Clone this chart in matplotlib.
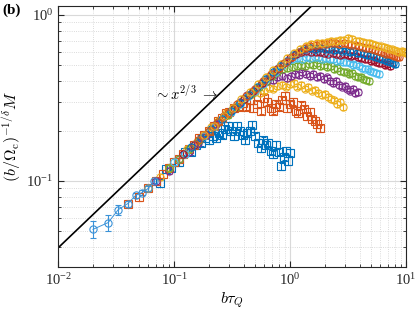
# Scaling collapse of M versus b*tau_Q (log-log)
import numpy as np
import matplotlib.pyplot as plt

plt.rcParams['font.family'] = 'serif'
plt.rcParams['font.serif'] = ['Liberation Serif', 'DejaVu Serif']
plt.rcParams['mathtext.fontset'] = 'cm'

# MATLAB default colours
blue = '#0072BD'
orange = '#D95319'
yellow = '#EDB120'
purple = '#7E2F8E'
green = '#77AC30'
lightblue = '#4DBEEE'
red = '#A2142F'
lineblue = '#3A92D8'

# small-x points joined by a line
x0 = [0.020, 0.027, 0.033, 0.040, 0.047, 0.053, 0.060, 0.067]
y0 = [0.051, 0.056, 0.067, 0.073, 0.082, 0.085, 0.090, 0.100]
e0 = [0.006, 0.006, 0.005, 0.003, 0.003, 0.003, 0.003, 0.003]

# series 1: blue squares
x1 = [0.075, 0.085, 0.095, 0.11, 0.125, 0.14, 0.155, 0.17, 0.185, 0.2,
      0.215, 0.23, 0.245, 0.26, 0.275, 0.29, 0.31, 0.33, 0.35, 0.37,
      0.39, 0.41, 0.43, 0.45, 0.47, 0.5, 0.53, 0.56, 0.59, 0.62,
      0.65, 0.68, 0.72, 0.76, 0.8, 0.84, 0.88, 0.92, 0.96, 1.0]
y1 = [0.097, 0.118, 0.12, 0.13, 0.15, 0.15, 0.165, 0.17, 0.18, 0.175,
      0.185, 0.18, 0.195, 0.19, 0.205, 0.215, 0.2, 0.185, 0.215, 0.2,
      0.19, 0.175, 0.195, 0.2, 0.218, 0.185, 0.17, 0.158, 0.175, 0.165,
      0.17, 0.152, 0.145, 0.165, 0.15, 0.122, 0.14, 0.152, 0.132, 0.148]

# series 2: orange squares
x2 = [0.04, 0.05, 0.06, 0.07, 0.08, 0.09, 0.1, 0.11, 0.12, 0.135,
      0.15, 0.165, 0.18, 0.2, 0.22, 0.24, 0.26, 0.28, 0.3, 0.33,
      0.36, 0.39, 0.42, 0.45, 0.48, 0.52, 0.56, 0.6, 0.64, 0.68,
      0.72, 0.76, 0.8, 0.85, 0.9, 0.95, 1.0, 1.06, 1.12, 1.18,
      1.25, 1.32, 1.4, 1.48, 1.56, 1.64, 1.72, 1.8]
y2 = [0.073, 0.08, 0.09, 0.1, 0.11, 0.12, 0.13, 0.135, 0.145, 0.155,
      0.165, 0.18, 0.19, 0.2, 0.215, 0.23, 0.24, 0.255, 0.26, 0.275,
      0.28, 0.295, 0.28, 0.305, 0.275, 0.29, 0.265, 0.315, 0.3, 0.275,
      0.265, 0.29, 0.28, 0.305, 0.325, 0.275, 0.29, 0.3, 0.265, 0.255,
      0.285, 0.27, 0.245, 0.26, 0.235, 0.23, 0.22, 0.208]

# series 3: yellow circles
x3 = [0.06, 0.075, 0.09, 0.11, 0.13, 0.155, 0.18, 0.21, 0.24, 0.28,
      0.32, 0.36, 0.4, 0.45, 0.5, 0.55, 0.6, 0.66, 0.72, 0.78,
      0.85, 0.92, 1.0, 1.08, 1.16, 1.25, 1.34, 1.44, 1.54, 1.65,
      1.76, 1.88, 2.0, 2.13, 2.26, 2.4, 2.55, 2.7, 2.85]
y3 = [0.09, 0.105, 0.12, 0.135, 0.155, 0.17, 0.19, 0.21, 0.23, 0.255,
      0.275, 0.295, 0.31, 0.33, 0.345, 0.34, 0.35, 0.365, 0.36, 0.375,
      0.38, 0.37, 0.385, 0.39, 0.37, 0.38, 0.36, 0.37, 0.35, 0.355,
      0.34, 0.33, 0.335, 0.32, 0.31, 0.305, 0.29, 0.3, 0.28]

# series 4: purple circles
x4 = [0.07, 0.09, 0.11, 0.135, 0.16, 0.19, 0.23, 0.27, 0.32, 0.37,
      0.43, 0.5, 0.57, 0.64, 0.71, 0.78, 0.86, 0.94, 1.02, 1.1,
      1.19, 1.28, 1.38, 1.48, 1.59, 1.7, 1.82, 1.95, 2.08, 2.22,
      2.36, 2.5, 2.65, 2.8, 2.96, 3.12, 3.3, 3.48, 3.66, 3.85]
y4 = [0.1, 0.115, 0.135, 0.15, 0.17, 0.19, 0.22, 0.245, 0.27, 0.3,
      0.33, 0.36, 0.385, 0.4, 0.405, 0.42, 0.43, 0.415, 0.43, 0.44,
      0.435, 0.45, 0.44, 0.43, 0.44, 0.42, 0.43, 0.41, 0.42, 0.4,
      0.39, 0.4, 0.38, 0.37, 0.375, 0.36, 0.35, 0.36, 0.34, 0.345]

# series 5: green circles
x5 = [0.09, 0.11, 0.135, 0.165, 0.2, 0.24, 0.29, 0.34, 0.4, 0.47,
      0.54, 0.62, 0.7, 0.78, 0.86, 0.95, 1.04, 1.14, 1.24, 1.35,
      1.46, 1.58, 1.7, 1.83, 1.96, 2.1, 2.25, 2.4, 2.56, 2.72,
      2.9, 3.08, 3.26, 3.45, 3.65, 3.86, 4.08, 4.3, 4.55, 4.8]
y5 = [0.12, 0.135, 0.155, 0.175, 0.2, 0.225, 0.25, 0.28, 0.31, 0.34,
      0.37, 0.4, 0.43, 0.45, 0.47, 0.48, 0.485, 0.49, 0.5, 0.49,
      0.505, 0.5, 0.51, 0.495, 0.5, 0.485, 0.49, 0.47, 0.48, 0.46,
      0.455, 0.45, 0.44, 0.445, 0.43, 0.42, 0.425, 0.41, 0.405, 0.4]

# series 6: light blue circles
x6 = [0.1, 0.125, 0.15, 0.18, 0.22, 0.26, 0.31, 0.37, 0.43, 0.5,
      0.58, 0.66, 0.75, 0.84, 0.94, 1.04, 1.15, 1.26, 1.38, 1.5,
      1.63, 1.76, 1.9, 2.05, 2.2, 2.36, 2.53, 2.7, 2.88, 3.07,
      3.27, 3.48, 3.7, 3.93, 4.17, 4.42, 4.68, 4.95, 5.23, 5.52, 5.82]
y6 = [0.13, 0.145, 0.165, 0.185, 0.21, 0.235, 0.26, 0.29, 0.32, 0.35,
      0.385, 0.42, 0.45, 0.49, 0.52, 0.54, 0.55, 0.545, 0.56, 0.55,
      0.555, 0.56, 0.545, 0.55, 0.54, 0.545, 0.53, 0.535, 0.52, 0.52,
      0.51, 0.5, 0.505, 0.49, 0.48, 0.475, 0.47, 0.46, 0.455, 0.445, 0.44]

# series 7: dark red circles
x7 = [0.12, 0.15, 0.18, 0.22, 0.27, 0.33, 0.4, 0.48, 0.57, 0.67,
      0.77, 0.88, 1.0, 1.12, 1.25, 1.38, 1.52, 1.67, 1.82, 1.98,
      2.15, 2.33, 2.52, 2.72, 2.93, 3.15, 3.38, 3.62, 3.87, 4.13,
      4.4, 4.68, 4.97, 5.27, 5.58, 5.9, 6.23, 6.57, 6.92, 7.28]
y7 = [0.145, 0.165, 0.19, 0.215, 0.245, 0.275, 0.31, 0.35, 0.39, 0.43,
      0.47, 0.51, 0.55, 0.58, 0.6, 0.605, 0.6, 0.595, 0.6, 0.59,
      0.585, 0.59, 0.58, 0.575, 0.58, 0.57, 0.565, 0.57, 0.555, 0.55,
      0.545, 0.54, 0.53, 0.535, 0.52, 0.515, 0.51, 0.5, 0.505, 0.49]

# series 8: blue circles
x8 = [0.14, 0.17, 0.21, 0.26, 0.31, 0.37, 0.44, 0.52, 0.61, 0.71,
      0.82, 0.94, 1.06, 1.19, 1.33, 1.48, 1.64, 1.81, 1.99, 2.18,
      2.38, 2.59, 2.81, 3.04, 3.28, 3.53, 3.79, 4.06, 4.34, 4.63,
      4.93, 5.24, 5.56, 5.89, 6.23, 6.58, 6.94, 7.31, 7.69, 8.0]
y8 = [0.16, 0.18, 0.205, 0.235, 0.265, 0.295, 0.33, 0.37, 0.41, 0.45,
      0.49, 0.53, 0.57, 0.6, 0.62, 0.63, 0.625, 0.63, 0.62, 0.625,
      0.615, 0.62, 0.61, 0.61, 0.6, 0.605, 0.59, 0.59, 0.58, 0.575,
      0.57, 0.565, 0.555, 0.55, 0.54, 0.535, 0.525, 0.52, 0.51, 0.505]

# series 9: orange circles
x9 = [0.16, 0.2, 0.24, 0.29, 0.35, 0.42, 0.5, 0.59, 0.69, 0.8,
      0.92, 1.05, 1.19, 1.34, 1.5, 1.67, 1.85, 2.04, 2.24, 2.45,
      2.67, 2.9, 3.14, 3.39, 3.65, 3.92, 4.2, 4.49, 4.79, 5.1,
      5.42, 5.75, 6.09, 6.44, 6.8, 7.17, 7.55, 7.94, 8.34, 8.75]
y9 = [0.175, 0.2, 0.225, 0.255, 0.29, 0.325, 0.36, 0.4, 0.44, 0.48,
      0.52, 0.56, 0.6, 0.63, 0.65, 0.66, 0.665, 0.67, 0.675, 0.68,
      0.67, 0.675, 0.665, 0.66, 0.655, 0.65, 0.64, 0.635, 0.63, 0.62,
      0.615, 0.605, 0.6, 0.59, 0.585, 0.58, 0.57, 0.565, 0.56, 0.555]

# series 10: yellow circles (top)
x10 = [0.18, 0.22, 0.27, 0.32, 0.38, 0.45, 0.53, 0.62, 0.72, 0.83,
       0.95, 1.08, 1.22, 1.37, 1.53, 1.7, 1.88, 2.07, 2.27, 2.48,
       2.7, 2.93, 3.17, 3.42, 3.68, 3.95, 4.23, 4.52, 4.82, 5.13,
       5.45, 5.78, 6.12, 6.47, 6.83, 7.2, 7.58, 7.97, 8.37, 8.78,
       9.2, 9.6, 10.0]
y10 = [0.19, 0.215, 0.245, 0.275, 0.31, 0.345, 0.385, 0.425, 0.465, 0.505,
       0.55, 0.59, 0.625, 0.65, 0.665, 0.675, 0.68, 0.69, 0.7, 0.695,
       0.705, 0.71, 0.73, 0.715, 0.7, 0.695, 0.69, 0.68, 0.675, 0.665,
       0.66, 0.65, 0.645, 0.64, 0.63, 0.625, 0.62, 0.615, 0.61, 0.6,
       0.605, 0.595, 0.59]

series = [(x1, y1, blue, 's', 0.05), (x2, y2, orange, 's', 0.05),
          (x3, y3, yellow, 'o', 0.04), (x4, y4, purple, 'o', 0.04),
          (x5, y5, green, 'o', 0.04), (x6, y6, lightblue, 'o', 0.04),
          (x7, y7, red, 'o', 0.04), (x8, y8, blue, 'o', 0.04),
          (x9, y9, orange, 'o', 0.04), (x10, y10, yellow, 'o', 0.04)]

# reference power law ~ x^(2/3)
amp = 0.85
expo = 2.0 / 3.0

fig = plt.figure(figsize=(4.15, 3.2), dpi=100)
ax = fig.add_axes([0.140, 0.166, 0.838, 0.815])

for xs, ys, c, m, frac in series:
    ys = np.array(ys)
    ax.errorbar(xs, ys, yerr=frac * ys, fmt=m, ls='none', color=c,
                mfc='none', ms=5.2, mew=0.8, elinewidth=0.8, capsize=1.8,
                capthick=0.8)

ax.errorbar(x0, y0, yerr=e0, fmt='o-', color=lineblue, mfc='none', ms=5.2,
            mew=0.8, lw=0.7, elinewidth=0.8, capsize=2.2, capthick=0.8)

xl = np.array([0.01, 2.0])
ax.plot(xl, amp * xl ** expo, color='black', lw=1.2)

ax.text(0.127, 0.335, r'$\sim x^{2/3}\ \rightarrow$', fontsize=10.5,
        ha='center', va='center')

ax.set_xscale('log')
ax.set_yscale('log')
ax.set_xlim(0.01, 10)
ax.set_ylim(0.0303, 1.13)

ax.grid(True, which='major', color='#d9d9d9', lw=0.8, ls='-')
ax.grid(True, which='minor', color='#cfcfcf', lw=0.6, ls=':')
ax.set_axisbelow(True)
ax.tick_params(which='both', direction='in', top=True, right=True,
               labelsize=10.5, colors='#262626')
ax.tick_params(which='major', length=4)
ax.tick_params(which='minor', length=2)
for s in ax.spines.values():
    s.set_color('#262626')
    s.set_linewidth(0.8)

ax.set_xlabel(r'$b\tau_Q$', fontsize=11.5, labelpad=2)
ax.set_ylabel(r'$(b/\Omega_{\rm c})^{-1/\delta}M$', fontsize=11.5, labelpad=2)

fig.text(0.005, 0.99, '(b)', fontsize=11, fontweight='bold', ha='left',
         va='top')

fig.savefig('out.png', dpi=100)
